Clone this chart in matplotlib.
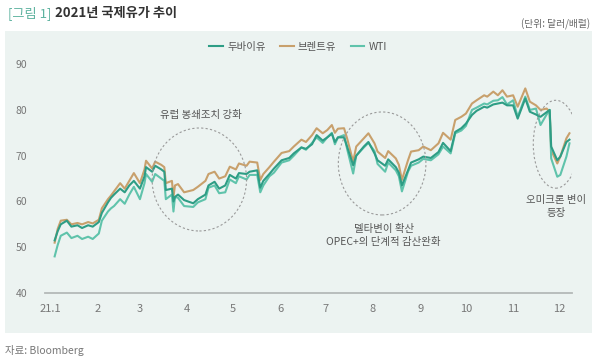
import numpy as np
import pandas as pd
import matplotlib
matplotlib.use("Agg")
import matplotlib.pyplot as plt
import matplotlib.dates as mdates
from matplotlib.patches import Ellipse

plt.rcParams['font.family'] = ['Noto Sans CJK KR', 'DejaVu Sans']

# 2021년 국제유가 (달러/배럴), 그림에서 읽은 값
dates = ["2021-01-04", "2021-01-06", "2021-01-08", "2021-01-12", "2021-01-15", "2021-01-19",
         "2021-01-22", "2021-01-26", "2021-01-29", "2021-02-02", "2021-02-04", "2021-02-08",
         "2021-02-10", "2021-02-12", "2021-02-16", "2021-02-19", "2021-02-22", "2021-02-25",
         "2021-03-01", "2021-03-04", "2021-03-05", "2021-03-09", "2021-03-11", "2021-03-15",
         "2021-03-17", "2021-03-18", "2021-03-22", "2021-03-23", "2021-03-24", "2021-03-26",
         "2021-03-30", "2021-04-05", "2021-04-08", "2021-04-13", "2021-04-15", "2021-04-19",
         "2021-04-22", "2021-04-26", "2021-04-29", "2021-05-03", "2021-05-05", "2021-05-10",
         "2021-05-12", "2021-05-17", "2021-05-19", "2021-05-21", "2021-05-25", "2021-05-28",
         "2021-06-02", "2021-06-07", "2021-06-10", "2021-06-15", "2021-06-18", "2021-06-22",
         "2021-06-25", "2021-06-29", "2021-07-02", "2021-07-05", "2021-07-07", "2021-07-09",
         "2021-07-13", "2021-07-15", "2021-07-19", "2021-07-21", "2021-07-26", "2021-07-29",
         "2021-08-02", "2021-08-04", "2021-08-09", "2021-08-11", "2021-08-16", "2021-08-18",
         "2021-08-20", "2021-08-24", "2021-08-26", "2021-08-31", "2021-09-03", "2021-09-08",
         "2021-09-13", "2021-09-16", "2021-09-21", "2021-09-24", "2021-09-28", "2021-10-01",
         "2021-10-05", "2021-10-08", "2021-10-13", "2021-10-15", "2021-10-19", "2021-10-22",
         "2021-10-25", "2021-10-28", "2021-11-01", "2021-11-04", "2021-11-09", "2021-11-12",
         "2021-11-16", "2021-11-19", "2021-11-23", "2021-11-25", "2021-11-26", "2021-11-30",
         "2021-12-02", "2021-12-06", "2021-12-08"]

brent = [51.0, 54.0, 55.8, 56.0, 55.0, 55.3, 55.0, 55.5, 55.2, 56.0, 58.5, 60.5,
         61.3, 62.2, 64.0, 62.8, 64.5, 66.2, 64.0, 67.0, 68.9, 67.2, 68.7, 68.0,
         67.5, 64.0, 64.5, 61.0, 63.5, 63.8, 62.0, 62.5, 63.2, 64.5, 66.0, 66.5,
         65.0, 65.5, 67.6, 67.0, 68.3, 67.8, 68.7, 68.5, 64.7, 66.0, 67.5, 68.7,
         70.6, 71.0, 72.0, 73.5, 73.0, 74.5, 76.0, 74.9, 75.6, 76.7, 75.0, 75.9,
         76.0, 73.8, 68.7, 72.0, 73.8, 74.9, 72.7, 70.9, 69.5, 71.0, 69.4, 68.0,
         64.7, 69.0, 70.9, 71.2, 72.0, 71.2, 72.7, 75.0, 73.5, 77.8, 78.5, 79.2,
         81.4, 82.1, 83.2, 82.9, 84.0, 83.2, 84.3, 82.9, 83.2, 80.7, 84.7, 81.8,
         81.0, 80.0, 80.3, 79.6, 71.2, 68.3, 69.8, 73.8, 74.9]

dubai = [51.5, 53.5, 55.0, 55.8, 54.5, 54.8, 54.2, 54.8, 54.5, 55.5, 57.5, 59.8,
         60.8, 61.5, 62.8, 62.0, 63.5, 64.5, 62.8, 65.5, 67.5, 66.5, 67.8, 67.0,
         66.5, 62.5, 62.8, 60.0, 61.0, 61.5, 60.3, 59.6, 60.5, 61.5, 63.5, 64.3,
         62.8, 63.5, 65.8, 65.0, 66.2, 66.0, 66.5, 66.8, 63.0, 64.5, 66.0, 67.2,
         69.0, 69.5, 70.5, 71.8, 71.5, 72.5, 74.5, 73.3, 74.0, 74.8, 73.0, 74.0,
         74.0, 72.0, 67.9, 70.0, 72.0, 73.0, 70.5, 69.0, 67.8, 69.2, 67.5, 66.3,
         63.5, 66.8, 68.5, 69.2, 69.8, 69.5, 70.8, 72.8, 71.0, 75.2, 76.0, 77.0,
         78.9, 79.8, 80.7, 80.5, 81.2, 81.4, 81.6, 81.0, 81.0, 78.1, 82.5, 79.6,
         79.0, 78.5, 79.5, 80.0, 72.0, 69.0, 69.8, 73.0, 73.5]

wti = [48.0, 50.5, 52.5, 53.2, 52.0, 52.5, 51.8, 52.3, 51.8, 53.0, 55.8, 57.8,
       58.5, 59.0, 60.5, 59.5, 61.5, 63.2, 60.5, 64.0, 66.0, 64.3, 66.0, 65.0,
       64.5, 60.5, 61.5, 57.8, 61.0, 60.8, 59.0, 58.8, 59.8, 60.5, 63.0, 63.5,
       61.8, 62.0, 64.8, 64.0, 65.5, 64.8, 65.8, 65.8, 62.0, 63.5, 65.5, 66.3,
       68.5, 69.0, 70.0, 71.8, 71.3, 72.8, 74.0, 72.8, 74.0, 75.0, 72.5, 74.0,
       74.5, 71.5, 66.1, 70.0, 71.8, 72.8, 71.0, 68.2, 66.5, 68.5, 66.8, 65.5,
       62.2, 66.5, 67.8, 68.5, 69.3, 69.0, 70.3, 72.0, 70.5, 74.9, 75.5, 76.5,
       80.0, 80.5, 81.4, 81.2, 82.0, 82.1, 82.8, 81.2, 82.1, 78.5, 82.9, 80.0,
       80.3, 76.7, 79.0, 80.0, 69.4, 65.4, 65.8, 69.8, 72.7]

month_labels = ["21.1", "2", "3", "4", "5", "6", "7", "8", "9", "10", "11", "12"]

c_dubai = "#2e9d85"
c_brent = "#c8a06c"
c_wti = "#5fc3ab"
bg = "#ecf3f1"

x = pd.to_datetime(dates)

fig = plt.figure(figsize=(6, 3.63), dpi=100)

# 연한 배경 패널
bgax = fig.add_axes([5 / 600, 1 - 333 / 363, 587 / 600, 302 / 363], zorder=0)
bgax.set_facecolor(bg)
bgax.set_xticks([])
bgax.set_yticks([])
for s in bgax.spines.values():
    s.set_visible(False)

ax = fig.add_axes([45 / 600, 1 - 293 / 363, 527 / 600, 238 / 363], zorder=1)
ax.set_facecolor("none")

l_brent, = ax.plot(x, brent, color=c_brent, lw=1.5, label="브렌트유")
l_wti, = ax.plot(x, wti, color=c_wti, lw=1.5, label="WTI")
l_dubai, = ax.plot(x, dubai, color=c_dubai, lw=1.5, label="두바이유")

ax.set_ylim(40, 92)
ax.set_yticks([40, 50, 60, 70, 80, 90])
ax.set_xlim(pd.Timestamp("2020-12-28 16:00"), pd.Timestamp("2021-12-09 16:00"))
ticks = pd.date_range("2021-01-01", "2021-12-01", freq="MS")
ax.set_xticks(ticks)
ax.set_xticklabels(month_labels)

for s in ["top", "right", "left"]:
    ax.spines[s].set_visible(False)
ax.spines["bottom"].set_color("#b4b9b8")
ax.spines["bottom"].set_linewidth(1.3)
ax.tick_params(axis="y", length=0, pad=13, labelsize=7.5, labelcolor="#777777")
ax.tick_params(axis="x", length=0, pad=8, labelsize=8, labelcolor="#777777")

# 점선 원
circles = [("2021-04-09", 64.8, 62, 22.5),
           ("2021-08-07", 68.3, 57.5, 22.5),
           ("2021-11-29", 72.5, 29.5, 19.2)]
for d, v, w, h in circles:
    cx = mdates.date2num(pd.Timestamp(d))
    ax.add_patch(Ellipse((cx, v), w, h, fill=False, ls=(0, (2, 2)),
                         ec="#9a9a9a", lw=0.8, zorder=5))

txt = dict(ha="center", va="center", fontsize=7.5, color="#555555")
ax.text(pd.Timestamp("2021-04-10"), 78.9, "유럽 봉쇄조치 강화", **txt)
ax.text(pd.Timestamp("2021-08-08"), 54.1, "델타변이 확산", **txt)
ax.text(pd.Timestamp("2021-08-08"), 51.2, "OPEC+의 단계적 감산완화", **txt)
ax.text(pd.Timestamp("2021-11-29"), 60.3, "오미크론 변이", **txt)
ax.text(pd.Timestamp("2021-11-29"), 57.4, "등장", **txt)

fig.legend(handles=[l_dubai, l_brent, l_wti], loc="center", ncol=3,
           bbox_to_anchor=(0.497, 1 - 47 / 363), frameon=False, fontsize=7.5,
           handlelength=1.3, handletextpad=0.4, columnspacing=1.4,
           labelcolor="#555555")

fig.text(8 / 600, 1 - 13 / 363, "[그림 1]", fontsize=9.5, color="#5fb3a0",
         va="center", ha="left")
fig.text(55 / 600, 1 - 13 / 363, "2021년 국제유가 추이", fontsize=9.5, color="#333333",
         fontweight="bold", va="center", ha="left")
fig.text(590 / 600, 1 - 24 / 363, "(단위: 달러/배럴)", fontsize=7, color="#666666",
         va="center", ha="right")
fig.text(5 / 600, 1 - 350 / 363, "자료: Bloomberg", fontsize=7.5, color="#777777",
         va="center", ha="left")

fig.savefig("out.png", dpi=100)
